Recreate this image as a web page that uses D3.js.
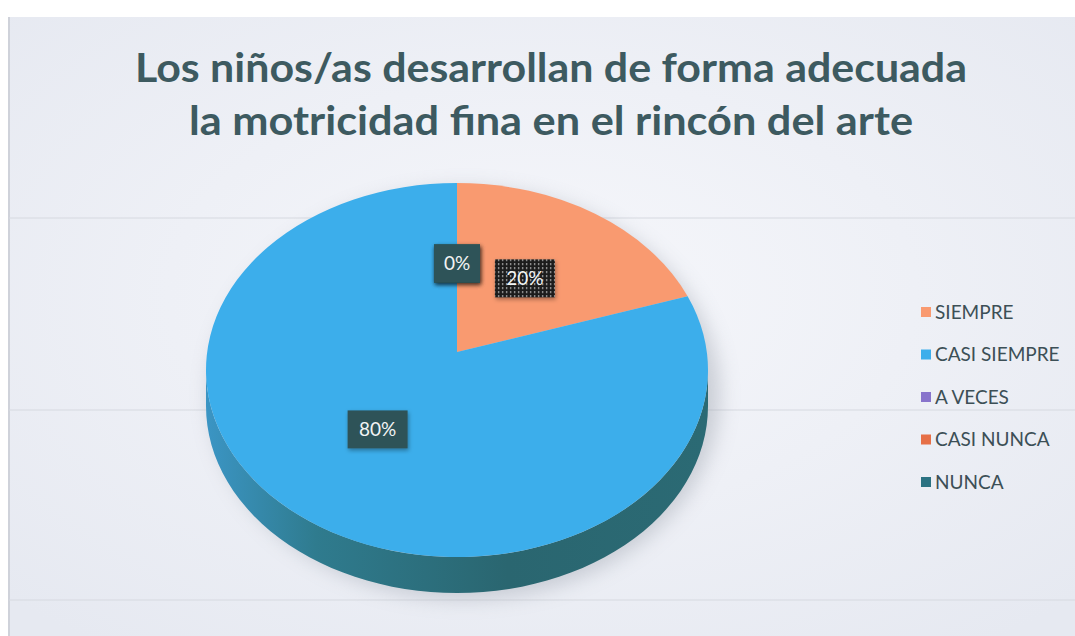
<!DOCTYPE html>
<html>
<head>
<meta charset="utf-8">
<script src="https://cdn.jsdelivr.net/npm/d3@7"></script>
<style>
  body { margin: 0; background: #fff; }
  svg { display: block; }
</style>
</head>
<body>
<div id="chart"></div>
<script>
const categories = ['SIEMPRE', 'CASI SIEMPRE', 'A VECES', 'CASI NUNCA', 'NUNCA'];
const values = [20, 80, 0, 0, 0];
const colors = ['#f99a70', '#3caeeb', '#8874cc', '#e66f47', '#2b7282'];
const sideColors = ['#b8694a', '#2c6b76', '#5a4c8a', '#9c4a30', '#1d4d57'];
const titleLines = ['Los niños/as desarrollan de forma adecuada', 'la motricidad fina en el rincón del arte'];

const width = 1075;
const height = 636;

const svg = d3.select('#chart').append('svg')
  .attr('width', width)
  .attr('height', height);

const defs = svg.append('defs');

// page background, a bit grey like the scan
const bg = defs.append('radialGradient').attr('id', 'bg')
  .attr('cx', '50%').attr('cy', '45%').attr('r', '70%');
bg.append('stop').attr('offset', '0%').attr('stop-color', '#f6f7fb');
bg.append('stop').attr('offset', '100%').attr('stop-color', '#e6e9f1');

const side = defs.append('linearGradient').attr('id', 'side')
  .attr('x1', '0%').attr('x2', '100%').attr('y1', '0%').attr('y2', '0%');
side.append('stop').attr('offset', '0%').attr('stop-color', '#3b95c4');
side.append('stop').attr('offset', '22%').attr('stop-color', '#2f7b8e');
side.append('stop').attr('offset', '60%').attr('stop-color', '#2a6670');
side.append('stop').attr('offset', '100%').attr('stop-color', '#2b6a74');

const blur = defs.append('filter').attr('id', 'blur')
  .attr('x', '-20%').attr('y', '-20%').attr('width', '140%').attr('height', '140%');
blur.append('feGaussianBlur').attr('stdDeviation', 10);

const lblShadow = defs.append('filter').attr('id', 'lblShadow')
  .attr('x', '-30%').attr('y', '-30%').attr('width', '160%').attr('height', '160%');
lblShadow.append('feDropShadow').attr('dx', 1).attr('dy', 2)
  .attr('stdDeviation', 2).attr('flood-color', '#000').attr('flood-opacity', 0.35);

const dots = defs.append('pattern').attr('id', 'dots')
  .attr('width', 4).attr('height', 4).attr('patternUnits', 'userSpaceOnUse');
dots.append('rect').attr('width', 4).attr('height', 4).attr('fill', '#1b1b1b');
dots.append('rect').attr('x', 1).attr('y', 1).attr('width', 1.4).attr('height', 1.4).attr('fill', '#d8d8d8');

svg.append('rect')
  .attr('x', 9).attr('y', 17)
  .attr('width', width - 9).attr('height', height - 17)
  .attr('fill', 'url(#bg)');
svg.append('line')
  .attr('x1', 9).attr('x2', 9).attr('y1', 17).attr('y2', height)
  .attr('stroke', '#cfd2da').attr('stroke-width', 2);

// faint lines from the slide
for (const y of [218, 410, 600]) {
  svg.append('line')
    .attr('x1', 9).attr('x2', width).attr('y1', y).attr('y2', y)
    .attr('stroke', '#d6d9e0').attr('stroke-width', 1);
}

// title
svg.selectAll('text.title')
  .data(titleLines)
  .join('text')
  .attr('class', 'title')
  .attr('x', 551)
  .attr('y', (d, i) => 82 + i * 53)
  .attr('text-anchor', 'middle')
  .attr('font-family', 'Lato, "Open Sans", sans-serif')
  .attr('font-weight', 'bold')
  .attr('font-size', 41)
  .attr('fill', '#3d5a60')
  .attr('textLength', (d, i) => (i === 0 ? 832 : 724))
  .attr('lengthAdjust', 'spacingAndGlyphs')
  .text((d) => d);

// 3d pie geometry
const cx = 457;
const cy = 370;
const rx = 251;
const ry = 187;
const depth = 36;
const vx = 457;
const vy = 352;

const pie = d3.pie().sort(null).value((d) => d);
const arcs = pie(values);

// point on the rim for a pie angle, seen from the (raised) vertex
function rim(a) {
  const k = rx / ry;
  const v = (vy - cy) * k;
  const dx = Math.sin(a);
  const dy = -Math.cos(a);
  const b = v * dy;
  const t = -b + Math.sqrt(b * b - v * v + rx * rx);
  return [cx + t * dx, cy + (v + t * dy) / k];
}

function paramAngle(p) {
  const a = Math.atan2((p[0] - cx) / rx, -(p[1] - cy) / ry);
  return a < 0 ? a + 2 * Math.PI : a;
}

// soft shadow
svg.append('ellipse')
  .attr('cx', cx + 8).attr('cy', cy + depth / 2 + 6)
  .attr('rx', rx + 4).attr('ry', ry + depth / 2)
  .attr('fill', '#9aa0ab').attr('opacity', 0.45)
  .attr('filter', 'url(#blur)');

// front side walls
function sidePath(d) {
  const s = paramAngle(rim(d.startAngle));
  const e = d.endAngle >= 2 * Math.PI - 1e-6 ? 2 * Math.PI : paramAngle(rim(d.endAngle));
  const a0 = Math.max(s, Math.PI / 2);
  const a1 = Math.min(e, 3 * Math.PI / 2);
  if (a1 <= a0) return null;
  const p = d3.path();
  const pt = (a, off) => [cx + rx * Math.sin(a), cy - ry * Math.cos(a) + off];
  const n = 60;
  for (let i = 0; i <= n; i++) {
    const q = pt(a0 + (a1 - a0) * i / n, 0);
    if (i === 0) p.moveTo(q[0], q[1]); else p.lineTo(q[0], q[1]);
  }
  for (let i = n; i >= 0; i--) {
    const q = pt(a0 + (a1 - a0) * i / n, depth);
    p.lineTo(q[0], q[1]);
  }
  p.closePath();
  return p.toString();
}

svg.append('g').selectAll('path')
  .data(arcs.filter((d) => d.value > 0))
  .join('path')
  .attr('d', sidePath)
  .attr('fill', (d) => (d.index === 1 ? 'url(#side)' : sideColors[d.index]));

// top slices
function topPath(d) {
  const p0 = rim(d.startAngle);
  const p1 = rim(d.endAngle);
  const s = paramAngle(p0);
  let e = paramAngle(p1);
  if (e <= s + 1e-6) e += 2 * Math.PI;
  const large = e - s > Math.PI ? 1 : 0;
  return `M${vx},${vy}L${p0[0]},${p0[1]}A${rx},${ry} 0 ${large} 1 ${p1[0]},${p1[1]}Z`;
}

svg.append('g').selectAll('path')
  .data(arcs.filter((d) => d.value > 0))
  .join('path')
  .attr('d', topPath)
  .attr('fill', (d) => colors[d.index]);

// data labels
const fmt = d3.format('.0%');
const total = d3.sum(values);
const labels = svg.append('g').selectAll('g')
  .data(arcs)
  .join('g')
  .attr('transform', (d) => {
    const a = (d.startAngle + d.endAngle) / 2;
    const p = rim(a);
    const lx = vx + (p[0] - vx) * 0.5;
    const ly = vy + (p[1] - vy) * 0.5 - 4;
    return `translate(${lx},${ly})`;
  });

labels.append('rect')
  .attr('x', (d) => (d.value > 0 ? -30 : -23))
  .attr('y', -19)
  .attr('width', (d) => (d.value > 0 ? 60 : 46))
  .attr('height', 38)
  .attr('fill', (d) => (d.index === 0 ? 'url(#dots)' : '#2f5359'))
  .attr('filter', 'url(#lblShadow)');

labels.append('text')
  .attr('text-anchor', 'middle')
  .attr('dy', '0.36em')
  .attr('font-family', 'Lato, "Open Sans", sans-serif')
  .attr('font-size', 19)
  .attr('fill', '#f2f4f4')
  .text((d) => fmt(d.value / total));

// legend
const legend = svg.append('g').selectAll('g')
  .data(categories)
  .join('g')
  .attr('transform', (d, i) => `translate(921,${312 + i * 42.5})`);

legend.append('rect')
  .attr('x', 0).attr('y', -5)
  .attr('width', 10).attr('height', 10)
  .attr('fill', (d, i) => colors[i]);

legend.append('text')
  .attr('x', 14)
  .attr('dy', '0.36em')
  .attr('font-family', 'Lato, "Open Sans", sans-serif')
  .attr('font-size', 19)
  .attr('fill', '#3c4f56')
  .text((d) => d);
</script>
</body>
</html>
